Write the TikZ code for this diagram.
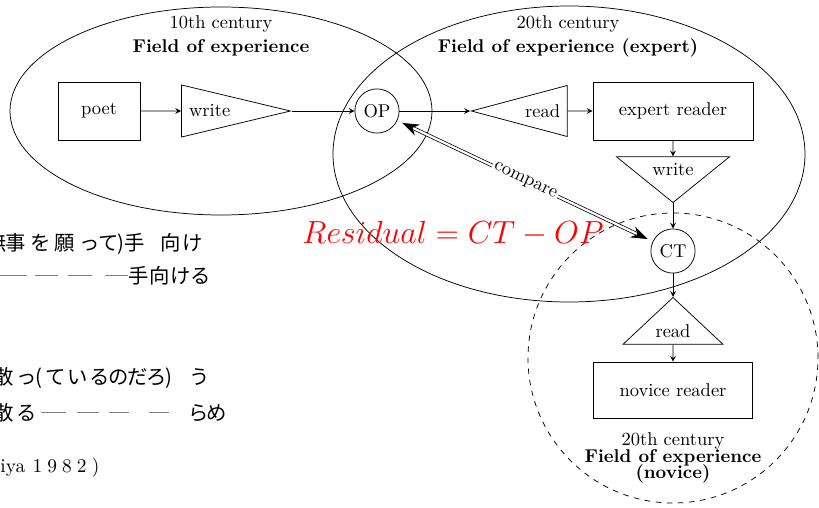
\documentclass[tikz,border=0pt]{standalone}
\usepackage{fontspec}
\newfontfamily\jpfont{Noto Sans CJK JP}
\usetikzlibrary{arrows.meta,shapes.geometric,positioning}
\tikzset{>=stealth}
\newcommand\cbox[2]{\makebox[#1pt][l]{#2}}
\newcommand\gdash[1]{\textcolor{gray}{\rule[3.8pt]{#1pt}{0.6pt}}}
\tikzset{
  box/.style={draw,rectangle,minimum width=#1,minimum height=1.1cm},
  tri/.style={draw,isosceles triangle,isosceles triangle stretches,inner sep=1pt},
  state/.style={draw,circle,minimum size=0.84cm,inner sep=0pt},
  jp/.style={anchor=base west,inner sep=0pt,font=\jpfont\fontsize{11}{13}\selectfont}
}

\begin{document}
\begin{tikzpicture}[x=0.019cm,y=0.019cm]
\useasboundingbox (0,0) rectangle (819,507);
% text of the page behind the picture
\node[jp] (jp1) at (-14,256.8) {\cbox{10.3}{無}\cbox{13.5}{事}\cbox{13}{を}\cbox{13.5}{願}%
  \cbox{10.3}{っ}\cbox{10.5}{て}\cbox{3.8}{)}\cbox{19.1}{手}\cbox{11.9}{向}け};
\node[jp] (jp2) at (0,223.8) {\gdash{14.6}\hspace{4.3pt}\gdash{12.4}\hspace{5.4pt}%
  \gdash{13}\hspace{7pt}\gdash{12.4}\cbox{11.3}{手}\cbox{11.3}{向}\cbox{11.3}{け}る};
\node[jp] (jp3) at (-7,122.8) {\cbox{12.4}{散}\cbox{10.3}{っ}\cbox{5.4}{(}\cbox{11.8}{て}%
  \cbox{11.9}{い}\cbox{10.3}{る}\cbox{10.3}{の}\cbox{10.3}{だ}\cbox{10.3}{ろ}\cbox{13}{)}う};
\node[jp] (jp4) at (-7,86.8) {\cbox{12.4}{散}\cbox{13.5}{る}\gdash{13.5}\hspace{5.9pt}%
  \gdash{11.9}\hspace{5.4pt}\gdash{10.8}\hspace{10.8pt}\gdash{10.8}\hspace{10.3pt}%
  \cbox{9.7}{ら}め};
\node[anchor=base west,inner sep=0pt,font=\fontsize{10.5}{12}\selectfont] (cite) at (0,35)
  {iya\hspace{4pt}\cbox{8}{1}\cbox{8}{9}\cbox{8}{8}\cbox{8}{2})};
% fields of experience
\draw (221,396) ellipse [x radius=211,y radius=104];
\draw (569,353) ellipse [x radius=236,y radius=148];
\draw[dashed] (673,149) circle [radius=145];
\node[align=center] (lab10) at (221,471) {10th century\\[1pt]\textbf{Field of experience}};
\node[align=center] (lab20) at (568,471) {20th century\\[1pt]\textbf{Field of experience (expert)}};
\node[align=center] (labnov) at (673,49) {20th century\\[-3pt]\textbf{Field of experience}\\[-3pt]\textbf{(novice)}};
% chain
\node[box=1.56cm] (poet) at (99,396) {poet};
\node[tri,shape border rotate=0,isosceles triangle apex angle=27,
  minimum width=0.99cm,minimum height=2.07cm,anchor=apex] (write1) at (292,396) {write};
\node[state] (op) at (377,396) {OP};
\node[tri,shape border rotate=180,isosceles triangle apex angle=30,
  minimum width=0.97cm,minimum height=1.82cm,anchor=apex] (read1) at (470,396) {read};
\node[box=3.04cm] (expert) at (673,396) {expert reader};
\node[tri,shape border rotate=270,isosceles triangle apex angle=100,
  minimum width=2.15cm,minimum height=0.87cm,anchor=apex] (write2) at (673,304) {write};
\node[state] (ct) at (673,256) {CT};
\node[tri,shape border rotate=90,isosceles triangle apex angle=94,
  minimum width=1.9cm,minimum height=0.89cm,anchor=apex] (read2) at (673,210) {read};
\node[box=3.02cm,minimum height=1.06cm] (novice) at (673,117) {novice reader};
\draw[->] (poet) -- (write1);
\draw[->] (write1.apex) -- (op);
\draw[->] (op) -- (read1.apex);
\draw[->] (read1) -- (expert);
\draw[->] (expert) -- (write2);
\draw[->] (write2.apex) -- (ct);
\draw[->] (ct) -- (read2.apex);
\draw[->] (read2) -- (novice);
\draw[{Stealth[length=9pt,width=6.5pt]}-{Stealth[length=9pt,width=6.5pt]},
  double,double distance=1.2pt,shorten <=3pt,shorten >=3pt] (op) --
  node[sloped,fill=white,inner sep=1pt] {compare} (ct);
\node[red,font=\fontsize{16.2}{19}\selectfont] (resid) at (453,273) {$Residual = CT - OP$};
\end{tikzpicture}
\end{document}
